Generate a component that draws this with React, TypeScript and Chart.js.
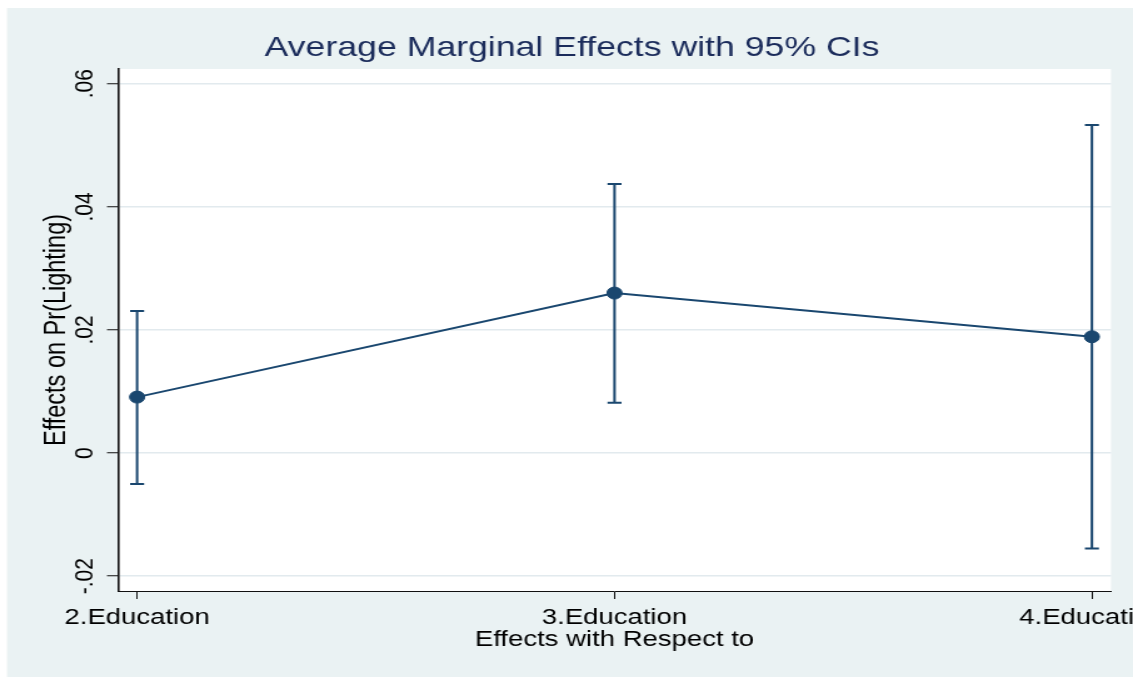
import React, { useEffect, useRef } from 'react';
import { Chart, registerables } from 'chart.js';

Chart.register(...registerables);

// Average marginal effects of education levels with 95% confidence intervals
const categories = [2, 3, 4];
const categoryLabels = ['2.Education', '3.Education', '4.Education'];
const marginalEffects = [0.0091, 0.026, 0.0189];
const ciLower = [-0.005, 0.0082, -0.0155];
const ciUpper = [0.0231, 0.0437, 0.0533];
const yTickValues = [-0.02, 0, 0.02, 0.04, 0.06];

const chartTitle = 'Average Marginal Effects with 95% CIs';
const xTitle = 'Effects with Respect to';
const yTitle = 'Effects on Pr(Lighting)';

// Page size and the wide (horizontally stretched) rendering of the graph
const PAGE_W = 1133;
const PAGE_H = 678;
const W = 906;
const SX = PAGE_W / W;

const NAVY = '#1a476f';
const TITLE_COLOR = '#1b2c5b';
const PANEL = '#EAF2F3';
const GRID = '#E2EAEE';
const AXIS = '#111111';
const FONT = "'Liberation Sans', Arial, Helvetica, sans-serif";

const PLOT_LEFT = 118 / SX;
const PLOT_RIGHT = 1111 / SX;
const PAD_LEFT = 26.4;
const CAP_HALF = 5.6;

const formatTick = (v: number) => {
  if (Math.abs(v) < 1e-9) return '0';
  const s = Math.abs(v).toFixed(2).replace(/^0/, '');
  return (v < 0 ? '-' : '') + s;
};

// Light graph region with a white plot region inside it
const backdropPlugin = {
  id: 'backdrop',
  beforeDraw(chart: any) {
    const { ctx, chartArea: a, width, height } = chart;
    ctx.save();
    ctx.fillStyle = '#ffffff';
    ctx.fillRect(0, 0, width, height);
    ctx.fillStyle = PANEL;
    ctx.fillRect(7 / SX, 8, width - 7 / SX, 677 - 8);
    ctx.fillStyle = '#ffffff';
    ctx.fillRect(a.left, a.top, a.right - a.left, a.bottom - a.top);
    ctx.restore();
  },
};

// Capped confidence-interval spikes under the markers
const ciBarsPlugin = {
  id: 'ciBars',
  beforeDatasetsDraw(chart: any) {
    const { ctx } = chart;
    const xs = chart.scales.x;
    const ys = chart.scales.y;
    ctx.save();
    ctx.strokeStyle = NAVY;
    ctx.lineWidth = 2;
    ctx.lineCap = 'butt';
    categories.forEach((c, i) => {
      const px = xs.getPixelForValue(c);
      const lo = ys.getPixelForValue(ciLower[i]);
      const hi = ys.getPixelForValue(ciUpper[i]);
      ctx.beginPath();
      ctx.moveTo(px, lo);
      ctx.lineTo(px, hi);
      ctx.moveTo(px - CAP_HALF, lo);
      ctx.lineTo(px + CAP_HALF, lo);
      ctx.moveTo(px - CAP_HALF, hi);
      ctx.lineTo(px + CAP_HALF, hi);
      ctx.stroke();
    });
    ctx.restore();
  },
};

export default function App() {
  const canvasRef = useRef<HTMLCanvasElement>(null);

  useEffect(() => {
    if (!canvasRef.current) return;
    Chart.defaults.font.family = FONT;

    const chart = new Chart(canvasRef.current, {
      type: 'line',
      data: {
        datasets: [
          {
            data: categories.map((c, i) => ({ x: c, y: marginalEffects[i] })),
            borderColor: NAVY,
            borderWidth: 2,
            backgroundColor: NAVY,
            pointBackgroundColor: NAVY,
            pointBorderColor: NAVY,
            pointBorderWidth: 1,
            pointRadius: 6,
            tension: 0,
          },
        ],
      },
      options: {
        responsive: false,
        animation: false,
        events: [],
        layout: {
          padding: { left: PAD_LEFT, right: W - PLOT_RIGHT, top: 0, bottom: 0 },
        },
        plugins: {
          legend: { display: false },
          tooltip: { enabled: false },
          title: {
            display: true,
            text: chartTitle,
            color: TITLE_COLOR,
            font: { family: FONT, size: 28.5, weight: 'normal', lineHeight: 1 },
            padding: { top: 33.75, bottom: 6.75 },
          },
        },
        scales: {
          x: {
            type: 'linear',
            min: 1.96,
            max: 4.04,
            afterBuildTicks: (s: any) => {
              s.ticks = categories.map((v) => ({ value: v }));
            },
            afterFit: (s: any) => {
              s.height = PAGE_H - 591;
              s.paddingLeft = 0;
              s.paddingRight = 0;
            },
            ticks: {
              callback: (_v: any, i: number) => categoryLabels[i],
              color: '#000',
              font: { family: FONT, size: 22, lineHeight: 1 },
              padding: 7.5,
              autoSkip: false,
              minRotation: 0,
              maxRotation: 0,
            },
            grid: {
              drawOnChartArea: false,
              drawTicks: true,
              tickLength: 8,
              tickColor: AXIS,
              tickWidth: 1,
            },
            border: { display: true, color: AXIS, width: 1 },
            title: {
              display: true,
              text: xTitle,
              color: '#000',
              font: { family: FONT, size: 22, lineHeight: 1 },
              padding: { top: 0, bottom: 27 },
            },
          },
          y: {
            type: 'linear',
            min: -0.0224,
            max: 0.0624,
            afterBuildTicks: (s: any) => {
              s.ticks = yTickValues.map((v) => ({ value: v }));
            },
            afterFit: (s: any) => {
              s.width = PLOT_LEFT - PAD_LEFT;
              s.paddingTop = 0;
              s.paddingBottom = 0;
            },
            ticks: {
              callback: (v: any) => formatTick(Number(v)),
              color: '#000',
              font: { family: FONT, size: 21, lineHeight: 1 },
              minRotation: 90,
              maxRotation: 90,
              crossAlign: 'center',
              padding: -1,
              autoSkip: false,
            },
            grid: {
              color: GRID,
              lineWidth: 1.5,
              drawTicks: true,
              tickLength: 8.8,
              tickColor: AXIS,
              tickWidth: 1,
            },
            border: { display: true, color: AXIS, width: 1.6 },
            title: {
              display: true,
              text: yTitle,
              color: '#000',
              font: { family: FONT, size: 23.5, lineHeight: 1 },
              padding: { top: 7, bottom: 0 },
            },
          },
        },
      } as any,
      plugins: [backdropPlugin, ciBarsPlugin],
    });

    return () => chart.destroy();
  }, []);

  return (
    <canvas
      ref={canvasRef}
      width={W}
      height={PAGE_H}
      style={{
        position: 'fixed',
        left: 0,
        top: 0,
        width: `${PAGE_W}px`,
        height: `${PAGE_H}px`,
      }}
    />
  );
}
